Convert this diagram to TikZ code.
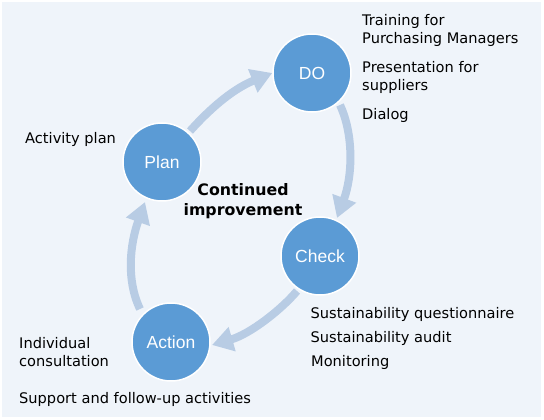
\documentclass[tikz,border=0pt]{standalone}
\usepackage{fontspec}
\usetikzlibrary{arrows.meta,calc}
\newfontfamily\lblfont{DejaVu Sans}
\newfontfamily\circfont{Liberation Sans}
\definecolor{bgc}{RGB}{239,244,250}
\definecolor{circc}{RGB}{91,155,213}
\definecolor{arrc}{RGB}{184,204,228}
\tikzset{
  stage/.style={circle, fill=circc, draw=white, line width=1.5pt, minimum size=78pt, inner sep=0pt,
    text=white, font=\circfont\fontsize{17.5}{20}\selectfont},
  flow/.style={draw=arrc, line width=8pt, -{Triangle[length=21pt,width=24pt]}, arrc},
  lbl/.style={anchor=base west, inner sep=0pt, font=\lblfont\fontsize{14.6}{18}\selectfont, text=black},
  ctr/.style={anchor=base, inner sep=0pt, font=\lblfont\bfseries\fontsize{15.8}{20}\selectfont, text=black}
}
\begin{document}
\begin{tikzpicture}[x=1pt,y=-1pt]
\useasboundingbox (0,0) rectangle (544,420);
\fill[bgc] (2,2) rectangle (541,417);
\node[stage] (plan) at (162,162) {Plan};
\node[stage] (do) at (312,73) {DO};
\node[stage] (check) at (320,256) {Check};
\node[stage] (action) at (171,342) {Action};
% arrows
\coordinate (s1) at ($(plan)+(28,-31)$);
\draw[flow] (s1) .. controls +(23.4,-26) and +(-37,15) .. (do.west);
\coordinate (s2) at ($(do)+(28,32)$);
\coordinate (e2) at ($(check)+(17,-38)$);
\draw[flow] (s2) .. controls +(14,30) and +(15.5,-42) .. (e2);
\coordinate (s3) at ($(check)+(-23,35)$);
\coordinate (e3) at ($(action)+(41,3)$);
\draw[flow] (s3) .. controls +(-16,19) and +(38,-11) .. (e3);
\coordinate (s4) at ($(action)+(-31,-33)$);
\coordinate (e4) at ($(plan)+(-17,40)$);
\draw[flow] (s4) .. controls +(-14,-29) and +(-15,42) .. (e4);
% labels
\node[lbl] (t1) at (25,143) {Activity plan};
\node[lbl] (t2) at (362,25.5) {Training for};
\node[lbl] (t3) at (362,43.5) {Purchasing Managers};
\node[lbl] (t4) at (362,72.5) {Presentation for};
\node[lbl] (t5) at (362,90.5) {suppliers};
\node[lbl] (t6) at (362,120) {Dialog};
\node[lbl] (t7) at (310.5,318.3) {Sustainability questionnaire};
\node[lbl] (t8) at (310.5,342.3) {Sustainability audit};
\node[lbl] (t9) at (311,366.5) {Monitoring};
\node[lbl] (t10) at (19,348.3) {Individual};
\node[lbl] (t11) at (19,366) {consultation};
\node[lbl] (t12) at (19,403.3) {Support and follow-up activities};
\node[ctr] (c1) at (243,195) {Continued};
\node[ctr] (c2) at (243,215.5) {improvement};
\end{tikzpicture}
\end{document}
